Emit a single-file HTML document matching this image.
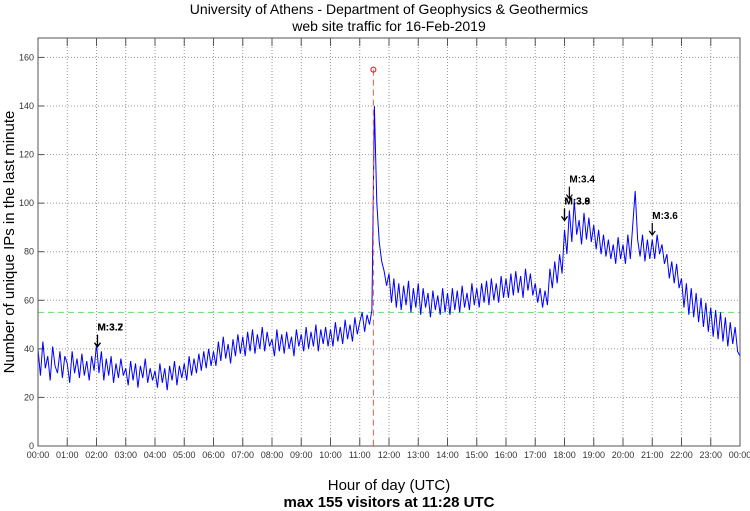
<!DOCTYPE html>
<html><head><meta charset="utf-8"><style>
body{margin:0;background:#fff;}
svg{display:block;font-family:"Liberation Sans",sans-serif;}
</style></head><body>
<svg id="c" width="750" height="511">
<text x="389" y="14" font-size="14" text-anchor="middle">University of Athens - Department of Geophysics &amp; Geothermics</text>
<text x="389" y="31" font-size="14" text-anchor="middle">web site traffic for 16-Feb-2019</text>
<text x="389" y="490" font-size="15" text-anchor="middle">Hour of day (UTC)</text>
<text x="389" y="507" font-size="15" font-weight="bold" text-anchor="middle">max 155 visitors at 11:28 UTC</text>
<text transform="translate(14,242) rotate(-90)" font-size="15" text-anchor="middle">Number of unique IPs in the last minute</text>
<g id="g"></g>
</svg>
<script>
const yTicks=[0,20,40,60,80,100,120,140,160];
const xTickLabels=["00:00","01:00","02:00","03:00","04:00","05:00","06:00","07:00","08:00","09:00","10:00","11:00","12:00","13:00","14:00","15:00","16:00","17:00","18:00","19:00","20:00","21:00","22:00","23:00","00:00"];
const visitors=[
40,29,43,32,37,27,41,33,30,39,28,37,
34,26,39,30,36,28,38,29,35,27,37,31,
42,30,39,27,36,29,37,26,34,28,36,29,
32,25,35,27,34,24,33,28,36,26,32,27,
31,24,34,26,32,23,33,27,35,25,33,28,
34,27,37,29,36,30,38,31,39,32,40,33,
39,33,43,35,45,36,42,34,44,37,46,38,
45,37,47,39,48,38,46,40,49,39,47,41,
44,37,48,39,46,38,47,40,45,37,48,41,
46,39,49,40,47,41,50,39,48,42,49,41,
48,41,51,43,49,42,52,44,50,43,53,46,
51,55,47,54,50,56,140,100,84,76,72,66,
71,59,69,57,67,56,66,58,68,55,65,57,
67,54,65,57,63,53,64,56,62,54,65,55,
63,54,65,56,64,55,66,57,63,56,67,58,
65,57,67,59,68,58,69,60,67,59,70,61,
69,61,71,62,72,63,70,61,73,64,71,62,
67,59,65,57,64,58,73,65,76,67,79,71,
89,79,97,84,101,87,93,83,96,85,94,84,
91,81,89,79,87,78,85,77,83,75,86,77,
83,75,87,77,91,105,85,78,87,76,85,77,
85,77,87,79,83,75,79,69,76,67,75,65,
69,57,67,54,65,53,63,51,61,49,59,47,
57,45,56,44,55,43,53,41,51,42,49,39,37];
const stepMinutes=5;
const maxValue=155, maxMinute=688, meanLine=55;
const quakes=[{m:"M:3.7",t:122,v:38},{m:"M:3.2",t:122,v:38},{m:"M:3.9",t:1080,v:90},{m:"M:3.8",t:1080,v:90},{m:"M:3.4",t:1090,v:99},{m:"M:3.6",t:1260,v:84}];
const L=38,R=740,T=38,B=446,YMAX=168;
const X=m=>L+(R-L)*m/1440, Y=v=>B-(B-T)*v/YMAX;
const g=document.getElementById('g'),NS="http://www.w3.org/2000/svg";
function mk(t,a){const e=document.createElementNS(NS,t);for(const k in a)e.setAttribute(k,a[k]);g.appendChild(e);return e;}
yTicks.forEach(v=>{
 if(v>0){const l=mk('line',{x1:L,x2:R,y1:Y(v),y2:Y(v),stroke:'#999','stroke-dasharray':'1,2'});
 
 }
 const t=mk('text',{x:L-4,y:Y(v)+3,'font-size':9,'text-anchor':'end',fill:'#333'});t.textContent=v;
 
 
 mk('line',{x1:L,x2:L+6,y1:Y(v),y2:Y(v),stroke:'#555'});
});
xTickLabels.forEach((s,i)=>{
 const x=X(i*60);
 if(i>0&&i<24){const l=mk('line',{x1:x,x2:x,y1:T,y2:B,stroke:'#999','stroke-dasharray':'1,2'});
 
 
 mk('line',{x1:x,x2:x,y1:B,y2:B-8,stroke:'#555'});mk('line',{x1:x,x2:x,y1:T,y2:T+8,stroke:'#555'});}
 const t=mk('text',{x:x,y:B+12,'font-size':9,'text-anchor':'middle',fill:'#333'});t.textContent=s;
 
 
});
const mean=mk('line',{x1:L,x2:R,y1:Y(meanLine),y2:Y(meanLine),stroke:'#6d6','stroke-dasharray':'6,4'});


const p=mk('polyline',{points:visitors.map((v,i)=>X(i*stepMinutes)+','+Y(v)).join(' '),fill:'none',stroke:'#00f','stroke-width':1});


const ml=mk('line',{x1:X(maxMinute),x2:X(maxMinute),y1:Y(maxValue),y2:B,stroke:'#f55','stroke-dasharray':'6,4'});


const mc=mk('circle',{cx:X(maxMinute),cy:Y(maxValue),r:2.5,fill:'none',stroke:'#f00'});


quakes.forEach(q=>{
 const x=X(q.t),y=Y(q.v);
 const a=mk('path',{d:`M${x},${y-19}V${y-7}M${x-3},${y-11}L${x},${y-7}L${x+3},${y-11}`,fill:'none',stroke:'#000','stroke-width':1.2});
 
 
 const t=mk('text',{x:x,y:y-23,'font-size':10,'font-weight':'bold'});t.textContent=q.m;
 
 
});
const fr=mk('rect',{x:L,y:T,width:R-L,height:B-T,fill:'none',stroke:'#555'});


</script>
</body></html>
